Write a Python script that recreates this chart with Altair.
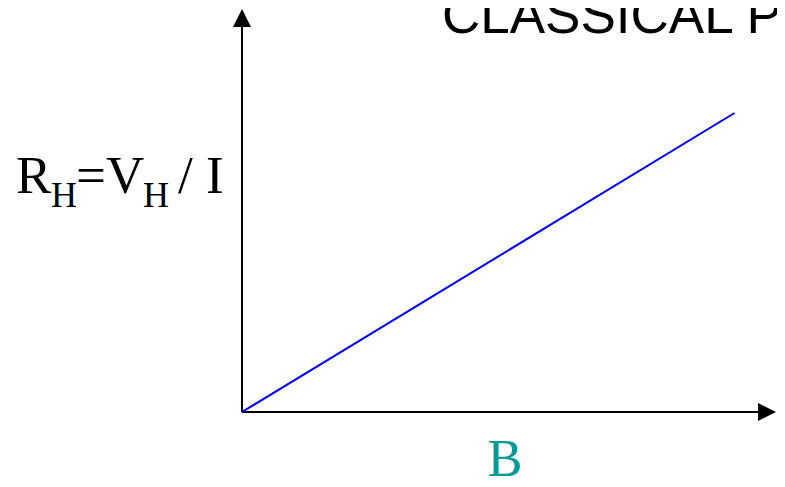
import altair as alt
import pandas as pd

# Data: classical Hall resistance grows linearly with B
B = [0, 10]
R_H = [0, 6]

title_text = ["CLASSICAL P"]
x_label = ["B"]
y_label_parts = ["R", "H", "=V", "H", "/ I"]

W, H = 769, 471
x_dom = [-4.751, 10.863]
y_dom = [-1.344, 8.107]
x_tip = 10.843
y_tip = 8.087

xs = alt.Scale(domain=x_dom, nice=False, zero=False)
ys = alt.Scale(domain=y_dom, nice=False, zero=False)

line_df = pd.DataFrame({"B": B, "R": R_H})

base_x = alt.X("x:Q", scale=xs, axis=None)
base_y = alt.Y("y:Q", scale=ys, axis=None)

xaxis = alt.Chart(pd.DataFrame({"x": [0], "x2": [x_tip - 0.2], "y": [0]})).mark_rule(
    color="black", strokeWidth=2
).encode(x=base_x, x2="x2:Q", y=base_y)

yaxis = alt.Chart(pd.DataFrame({"x": [0], "y": [0], "y2": [y_tip - 0.2]})).mark_rule(
    color="black", strokeWidth=2
).encode(x=base_x, y=base_y, y2="y2:Q")

x_arrow = alt.Chart(pd.DataFrame({"x": [x_tip], "y": [0]})).mark_point(
    shape="M0,0L-2,-1L-2,1Z", filled=True, color="black", size=324, opacity=1, strokeWidth=0
).encode(x=base_x, y=base_y)

y_arrow = alt.Chart(pd.DataFrame({"x": [0], "y": [y_tip]})).mark_point(
    shape="M0,0L-1,2L1,2Z", filled=True, color="black", size=324, opacity=1, strokeWidth=0
).encode(x=base_x, y=base_y)

line = alt.Chart(line_df).mark_line(color="#0000FF", strokeWidth=2).encode(
    x=alt.X("B:Q", scale=xs, axis=None),
    y=alt.Y("R:Q", scale=ys, axis=None),
)

def txt(s, x, y, size, font, color="black", align="left"):
    return alt.Chart(pd.DataFrame({"t": [s]})).mark_text(
        font=font, fontSize=size, color=color, align=align, baseline="alphabetic"
    ).encode(text="t:N", x=alt.value(x), y=alt.value(y))

serif = "Liberation Serif"
title = txt(title_text[0], 434, 25, 53, "Liberation Sans")
blabel = txt(x_label[0], 497, 468, 52, serif, color="#009999", align="center")
y1 = txt(y_label_parts[0], 8, 185, 53, serif)
y2 = txt(y_label_parts[1], 43, 199, 36, serif)
y3 = txt(y_label_parts[2], 68, 185, 53, serif)
y4 = txt(y_label_parts[3], 135, 199, 36, serif)
y5 = txt(y_label_parts[4], 170, 185, 53, serif)

chart = alt.layer(
    xaxis, yaxis, x_arrow, y_arrow, line, title, blabel, y1, y2, y3, y4, y5
).properties(
    width=W, height=H, padding=0, autosize=alt.AutoSizeParams(type="none"), background="white"
).configure_view(stroke=None)

chart.save("out.html", embed_options={"renderer": "svg", "actions": False})
